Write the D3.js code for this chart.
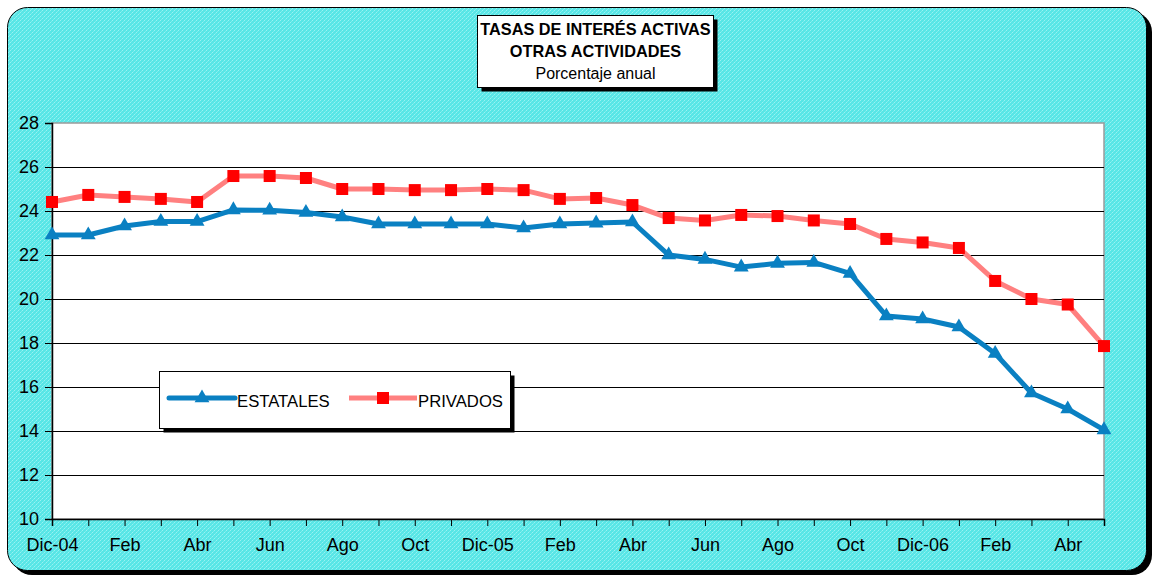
<!DOCTYPE html>
<html>
<head>
<meta charset="utf-8">
<script src="https://cdn.jsdelivr.net/npm/d3@7"></script>
<style>
  html, body { margin: 0; padding: 0; background: #ffffff; }
  svg { display: block; font-family: Arial, "Liberation Sans", sans-serif; }
</style>
</head>
<body>
<svg id="chart" width="1162" height="578"></svg>
<script>
// Monthly categories, Dec 2004 to May 2007
const months = ["Dic-04","Ene","Feb","Mar","Abr","May","Jun","Jul","Ago","Sep","Oct","Nov",
                "Dic-05","Ene","Feb","Mar","Abr","May","Jun","Jul","Ago","Sep","Oct","Nov",
                "Dic-06","Ene","Feb","Mar","Abr","May"];

// Active interest rates, % per year
const estatales = [22.91, 22.91, 23.32, 23.52, 23.52, 24.05, 24.03, 23.93, 23.73, 23.41,
                   23.41, 23.41, 23.41, 23.23, 23.41, 23.45, 23.50, 22.00, 21.80, 21.45,
                   21.62, 21.66, 21.16, 19.23, 19.09, 18.73, 17.52, 15.73, 15.00, 14.05];
const privados  = [24.41, 24.73, 24.64, 24.55, 24.41, 25.59, 25.59, 25.50, 25.00, 25.00,
                   24.95, 24.95, 25.00, 24.95, 24.55, 24.59, 24.27, 23.68, 23.57, 23.82,
                   23.77, 23.57, 23.41, 22.73, 22.57, 22.32, 20.82, 20.00, 19.75, 17.86];

const yTicks = [10, 12, 14, 16, 18, 20, 22, 24, 26, 28];
const titleLines = ["TASAS DE INTERÉS ACTIVAS", "OTRAS ACTIVIDADES"];
const subtitle = "Porcentaje anual";
const seriesNames = ["ESTATALES", "PRIVADOS"];

const svg = d3.select("#chart");
const defs = svg.append("defs");

// Dithered cyan fill for the chart frame
const pat = defs.append("pattern")
  .attr("id", "dither").attr("patternUnits", "userSpaceOnUse")
  .attr("width", 4).attr("height", 4);
pat.append("rect").attr("width", 4).attr("height", 4).attr("fill", "#58e6e6");
[[0,0],[2,2]].forEach(([x,y]) =>
  pat.append("rect").attr("x", x).attr("y", y).attr("width", 1).attr("height", 1).attr("fill", "#98f2f2"));
[[1,3],[3,1]].forEach(([x,y]) =>
  pat.append("rect").attr("x", x).attr("y", y).attr("width", 1).attr("height", 1).attr("fill", "#7decec"));

// Outer frame with drop shadow
svg.append("rect").attr("x", 12).attr("y", 12).attr("width", 1140).attr("height", 563)
  .attr("rx", 20).attr("fill", "#000");
svg.append("rect").attr("x", 7.5).attr("y", 7.5).attr("width", 1139).attr("height", 563)
  .attr("rx", 20).attr("fill", "url(#dither)").attr("stroke", "#000").attr("stroke-width", 1);

// Plot area
const plot = { left: 52, right: 1104, top: 123, bottom: 519 };
const x = d3.scalePoint().domain(d3.range(months.length)).range([plot.left, plot.right]);
const y = d3.scaleLinear().domain([10, 28]).range([plot.bottom, plot.top]);

svg.append("rect").attr("x", plot.left).attr("y", plot.top)
  .attr("width", plot.right - plot.left).attr("height", plot.bottom - plot.top)
  .attr("fill", "#fff").attr("stroke", "#9a9a9a").attr("stroke-width", 1.5);

// Horizontal gridlines
svg.append("g").selectAll("line").data(yTicks.filter(t => t > 10 && t < 28)).join("line")
  .attr("x1", plot.left).attr("x2", plot.right)
  .attr("y1", d => Math.round(y(d)) + 0.5).attr("y2", d => Math.round(y(d)) + 0.5)
  .attr("stroke", "#000").attr("stroke-width", 1);

// Y axis
const yAxis = svg.append("g").attr("transform", `translate(${plot.left},0)`)
  .call(d3.axisLeft(y).tickValues(yTicks).tickSize(7).tickPadding(6).tickFormat(d3.format("d")));
yAxis.select(".domain").attr("stroke", "#000").attr("stroke-width", 1.5);
yAxis.selectAll(".tick line").attr("stroke", "#000");
yAxis.selectAll("text").attr("font-size", 18).attr("fill", "#000")
  .attr("font-family", "Arial, 'Liberation Sans', sans-serif");

// X axis: tick per month, label every other month
const xAxis = svg.append("g").attr("transform", `translate(0,${plot.bottom})`)
  .call(d3.axisBottom(x).tickSize(7).tickPadding(12)
    .tickFormat(i => i % 2 === 0 ? months[i] : ""));
xAxis.select(".domain").attr("stroke", "#000").attr("stroke-width", 1.5);
xAxis.selectAll(".tick line").attr("stroke", "#000");
xAxis.selectAll("text").attr("font-size", 18).attr("fill", "#000")
  .attr("font-family", "Arial, 'Liberation Sans', sans-serif");

// Series
const blue = "#0a80c2", pink = "#ff8080", red = "#ff0000";
const line = d3.line().x((d, i) => x(i)).y(d => y(d));

svg.append("path").datum(privados).attr("d", line)
  .attr("fill", "none").attr("stroke", pink).attr("stroke-width", 5).attr("stroke-linejoin", "round");
svg.append("g").selectAll("rect").data(privados).join("rect")
  .attr("x", (d, i) => x(i) - 6).attr("y", d => y(d) - 6)
  .attr("width", 12).attr("height", 12).attr("fill", red);

svg.append("path").datum(estatales).attr("d", line)
  .attr("fill", "none").attr("stroke", blue).attr("stroke-width", 5).attr("stroke-linejoin", "round");
const tri = d3.symbol().type(d3.symbolTriangle).size(95);
svg.append("g").selectAll("path").data(estatales).join("path")
  .attr("d", tri).attr("transform", (d, i) => `translate(${x(i)},${y(d)})`)
  .attr("fill", blue);

// Title box
const tb = { x: 477.5, y: 15.5, w: 236, h: 72 };
svg.append("rect").attr("x", tb.x + 4).attr("y", tb.y + 4).attr("width", tb.w).attr("height", tb.h).attr("fill", "#000");
svg.append("rect").attr("x", tb.x).attr("y", tb.y).attr("width", tb.w).attr("height", tb.h)
  .attr("fill", "#fff").attr("stroke", "#000").attr("stroke-width", 1);
const tcx = tb.x + tb.w / 2;
svg.append("g").selectAll("text").data(titleLines).join("text")
  .attr("x", tcx).attr("y", (d, i) => 35 + i * 22).attr("text-anchor", "middle")
  .attr("font-size", 16.3).attr("font-weight", "bold").attr("fill", "#000").text(d => d);
svg.append("text").attr("x", tcx).attr("y", 79).attr("text-anchor", "middle")
  .attr("font-size", 16).attr("fill", "#000").text(subtitle);

// Legend box
const lb = { x: 159.5, y: 371.5, w: 351, h: 57 };
svg.append("rect").attr("x", lb.x + 4).attr("y", lb.y + 4).attr("width", lb.w).attr("height", lb.h).attr("fill", "#000");
svg.append("rect").attr("x", lb.x).attr("y", lb.y).attr("width", lb.w).attr("height", lb.h)
  .attr("fill", "#fff").attr("stroke", "#000").attr("stroke-width", 1);
const ly = 398;
svg.append("line").attr("x1", 169).attr("x2", 235).attr("y1", ly).attr("y2", ly)
  .attr("stroke", blue).attr("stroke-width", 5).attr("stroke-linecap", "round");
svg.append("path").attr("d", tri).attr("transform", `translate(202,${ly})`).attr("fill", blue);
svg.append("text").attr("x", 237).attr("y", ly + 9).attr("font-size", 16.7).attr("fill", "#000").text(seriesNames[0]);
svg.append("line").attr("x1", 349).attr("x2", 417).attr("y1", ly).attr("y2", ly)
  .attr("stroke", pink).attr("stroke-width", 5);
svg.append("rect").attr("x", 377).attr("y", ly - 6).attr("width", 12).attr("height", 12).attr("fill", red);
svg.append("text").attr("x", 418).attr("y", ly + 9).attr("font-size", 16.7).attr("fill", "#000").text(seriesNames[1]);
</script>
</body>
</html>
